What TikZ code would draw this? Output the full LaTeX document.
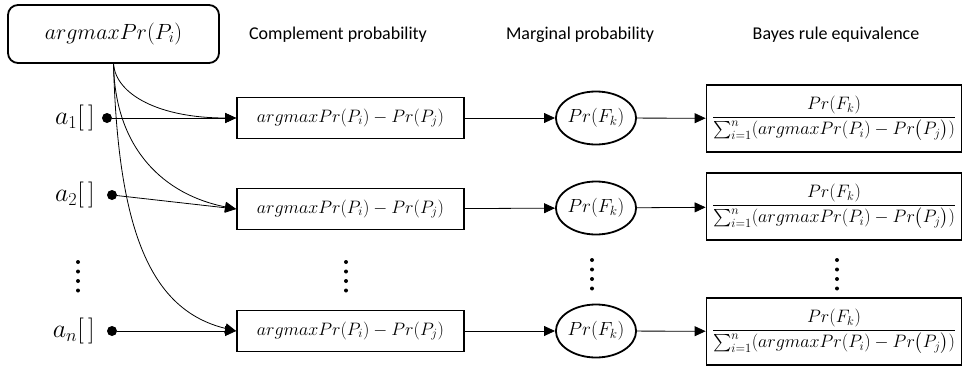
\IfFileExists{fix-cm.sty}{\RequirePackage{fix-cm}}{}
\documentclass[tikz,border=0pt]{standalone}
\usepackage{amsmath}
\usepackage{fontspec}
\newfontfamily\calibri{Carlito}
\usetikzlibrary{shapes,arrows.meta,positioning}
\newcommand{\cmp}{argmaxPr(P_i)-Pr(P_j)}
\newcommand{\bayesfrac}{\dfrac{Pr(F_k)}{\sum_{i=1}^{n}(argmaxPr(P_i)-Pr\bigl(P_j\bigr))}}

\begin{document}
\begin{tikzpicture}[x=1pt,y=-1pt,
  cbox/.style={draw,line width=1.8pt,minimum width=227pt,minimum height=41pt,inner sep=0pt,font=\fontsize{18}{22}\selectfont},
  marg/.style={draw,ellipse,line width=1.8pt,minimum width=63pt,minimum height=53pt,inner sep=0pt,font=\fontsize{19}{23}\selectfont},
  bbox/.style={draw,line width=1.8pt,minimum width=255pt,minimum height=67pt,inner sep=0pt,font=\fontsize{18}{22}\selectfont},
  head/.style={font=\calibri\fontsize{18}{22}\selectfont},
  lab/.style={inner sep=0pt,font=\fontsize{26}{30}\selectfont},
  pt/.style={circle,fill,inner sep=0pt,minimum size=10pt},
  arr/.style={-{Triangle[length=11pt,width=10pt]},line width=0.8pt},
  vdots/.style={line width=4pt,line cap=round,dash pattern=on 0pt off 9.5pt}]
\useasboundingbox (0,0) rectangle (963,369);

\node[draw,rounded corners=10pt,line width=1.8pt,minimum width=211pt,minimum height=58pt,font=\fontsize{22}{26}\selectfont] (top) at (113.5,34) {$argmaxPr(P_i)$};

% column titles
\node[head] (h1) at (338,35) {Complement probability};
\node[head] (h2) at (580,35) {Marginal probability};
\node[head] (h3) at (836,35) {Bayes rule equivalence};

% inputs
\node[pt] (d1) at (107,118) {};
\node[pt] (d2) at (112,195) {};
\node[pt] (dn) at (112,331) {};
\node[lab,left=7pt of d1] (l1) {$a_1[\,]$};
\node[lab,left=12pt of d2] (l2) {$a_2[\,]$};
\node[lab,left=12pt of dn] (ln) {$a_n[\,]$};

\node[cbox] (cp1) at (350.5,118) {$\cmp$};
\node[cbox] (cp2) at (350.5,209) {$\cmp$};
\node[cbox] (cpn) at (350.5,331) {$\cmp$};

\node[marg] (mp1) at (596,118) {$Pr(F_k)$};
\node[marg] (mp2) at (596,208) {$Pr(F_k)$};
\node[marg] (mpn) at (596,331) {$Pr(F_k)$};

\node[bbox] (br1) at (834,118.5) {$\bayesfrac$};
\node[bbox] (br2) at (834,206.5) {$\bayesfrac$};
\node[bbox] (brn) at (834,331.5) {$\bayesfrac$};

\draw[arr] (d1) -- (cp1.west);
\draw[arr] (d2) -- (cp2.west);
\draw[arr] (dn) -- (cpn.west);
\draw[arr] (top.south) .. controls (116,95) and (160,118) .. (cp1.west);
\draw[arr] (top.south) .. controls (115,150) and (165,195) .. (cp2.west);
\draw[arr] (top.south) .. controls (118,230) and (150,310) .. (cpn.west);

\draw[arr] (cp1) -- (mp1);
\draw[arr] (cp2) -- (mp2);
\draw[arr] (cpn) -- (mpn);
\draw[arr] (mp1) -- (br1);
\draw[arr] (mp2) -- (br2);
\draw[arr] (mpn) -- (brn);

% dots between rows
\draw[vdots] (78,262) -- (78,291);
\draw[vdots] (346,262) -- (346,291);
\draw[vdots] (592,260) -- (592,289);
\draw[vdots] (837,260) -- (837,289);
\end{tikzpicture}
\end{document}
